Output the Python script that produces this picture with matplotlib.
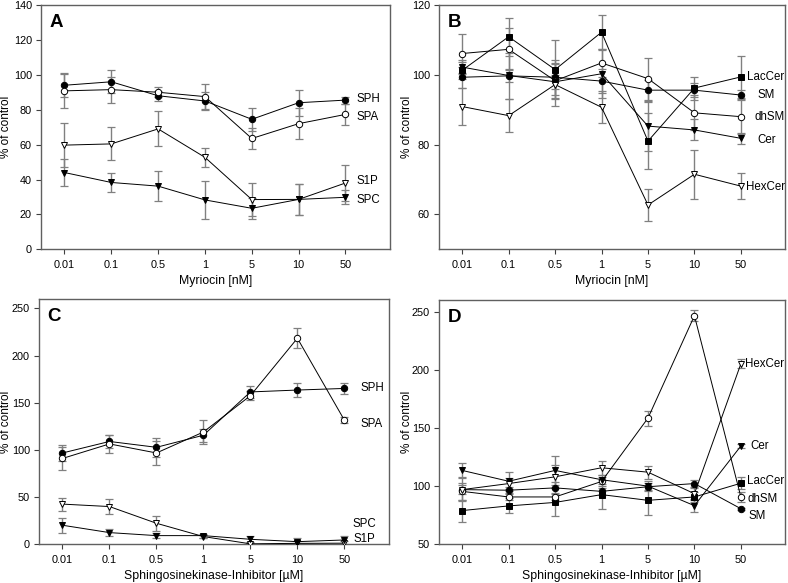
import matplotlib
matplotlib.use("Agg")
import matplotlib.pyplot as plt
import numpy as np

plt.rcParams['font.family'] = ['Liberation Sans', 'DejaVu Sans']

doses = ['0.01', '0.1', '0.5', '1', '5', '10', '50']

# Panel A
A_SPH = [94, 96, 88, 85, 74.5, 84, 85.5]
A_SPH_err = [6.5, 6.5, 3, 5, 6.5, 7.5, 2]
A_SPA = [90.8, 91.5, 90, 87.5, 63.5, 72, 77.3]
A_SPA_err = [10, 7.5, 3, 7, 6, 9, 6]
A_S1P = [59.7, 60.4, 69, 52.7, 28.5, 28.6, 38]
A_S1P_err = [12.5, 9.5, 10, 5.5, 9.5, 9, 10.5]
A_SPC = [44, 38.3, 36.2, 28.3, 23.5, 28.6, 29.8]
A_SPC_err = [7.5, 5.7, 8.5, 11, 6, 9, 4]

# Panel B
B_LacCer = [101.3, 110.9, 101.5, 112.2, 81, 96.2, 99.4]
B_LacCer_err = [2.5, 5.5, 8.5, 5, 8, 3.3, 6]
B_SM = [99.3, 99.7, 99.3, 98.2, 95.6, 95.6, 94.2]
B_SM_err = [3, 6.5, 5, 3.5, 3, 2, 1.5]
B_dhSM = [106.1, 107.3, 98.3, 103.4, 98.9, 89.1, 88]
B_dhSM_err = [5.5, 6, 5, 4, 6, 5, 5]
B_Cer = [102.2, 99.8, 98, 100.3, 85.3, 84.2, 81.8]
B_Cer_err = [2, 2, 2, 7, 7, 3, 1.5]
B_HexCer = [90.9, 88.3, 97.2, 90.7, 62.7, 71.5, 68.1]
B_HexCer_err = [5.3, 4.7, 6, 4.6, 4.6, 7, 3.8]

# Panel C
C_SPH = [96.8, 109, 102.8, 115.6, 161.5, 163.5, 165.2]
C_SPH_err = [8, 6.6, 10, 7, 6, 7.6, 6]
C_SPA = [91, 106.4, 96.8, 119, 157.5, 218.4, 131.6]
C_SPA_err = [12, 9.6, 13, 12.6, 5, 10.6, 3]
C_S1P = [42.6, 40, 22.3, 8.2, 0.5, 1, 1.2]
C_S1P_err = [7, 8, 8, 2, 2, 2, 2]
C_SPC = [20.2, 12.4, 9.2, 9.2, 5.3, 2.8, 4.6]
C_SPC_err = [8, 4, 3, 2, 4, 4, 4]

# Panel D
D_LacCer = [79, 83, 86, 92.7, 87.8, 90.7, 102.5]
D_LacCer_err = [9.5, 6.5, 12, 12.5, 12.5, 4, 5]
D_SM = [97, 96.5, 98.5, 95.5, 99.5, 102.2, 80.6]
D_SM_err = [4, 3, 5, 3, 3, 3, 1]
D_dhSM = [95.5, 90.7, 90.7, 104, 158.5, 246.5, 90.7]
D_dhSM_err = [7, 3, 3, 4, 6.5, 4.5, 4]
D_Cer = [113.5, 104.2, 113.5, 105.5, 100, 83.2, 134.5]
D_Cer_err = [6, 8, 12.5, 4, 4, 5.5, 2]
D_HexCer = [97, 102.2, 108, 115.8, 112, 93.5, 205.2]
D_HexCer_err = [10, 5, 10, 6, 5.5, 5, 4]

fig = plt.figure(figsize=(7.88, 5.83), dpi=100)

W, H = 788.0, 583.0
def add_ax(l, r, t, b):
    return fig.add_axes([l / W, 1 - b / H, (r - l) / W, (b - t) / H])

axA = add_ax(41, 390, 5, 249.3)
axB = add_ax(439, 785, 5, 249.3)
axC = add_ax(39, 389, 299, 544.3)
axD = add_ax(439, 785, 300, 544.3)

x = np.arange(len(doses))

def series(ax, y, err, marker, filled):
    eb = ax.errorbar(x, y, yerr=err, fmt='none', ecolor='#808080', elinewidth=1.0,
                     capsize=3.2, capthick=0.9, zorder=2)
    for cl in eb[1]:
        cl.set_color('black')
    ax.plot(x, y, color='black', lw=0.7, zorder=3,
            marker=marker, markersize=4.6,
            markerfacecolor='black' if filled else 'white',
            markeredgecolor='black', markeredgewidth=0.7)

def style(ax, ylim, yticks, xlabel, letter, ylab_x):
    ax.set_xlim(-0.5, 6.95)
    ax.set_ylim(*ylim)
    ax.set_yticks(yticks)
    ax.set_xticks(x)
    ax.set_xticklabels(doses)
    ax.tick_params(axis='both', labelsize=7.8, direction='out', length=3.5,
                   width=0.8, color='#404040', pad=4)
    ax.tick_params(axis='y', pad=3)
    for s in ax.spines.values():
        s.set_color('#606060')
        s.set_linewidth(1.0)
    ax.set_xlabel(xlabel, fontsize=8.8, labelpad=4)
    ax.set_ylabel('% of control', fontsize=8.5)
    ax.yaxis.set_label_coords(ylab_x, 0.5)
    ax.text(0.025, 0.965, letter, transform=ax.transAxes, fontsize=13.5,
            fontweight='bold', va='top', ha='left')

# A
series(axA, A_SPH, A_SPH_err, 'o', True)
series(axA, A_SPA, A_SPA_err, 'o', False)
series(axA, A_S1P, A_S1P_err, 'v', False)
series(axA, A_SPC, A_SPC_err, 'v', True)
style(axA, (0, 140), range(0, 141, 20), 'Myriocin [nM]', 'A', -0.083)
for t, xx, yy in [('SPH', 6.24, 86), ('SPA', 6.24, 76), ('S1P', 6.24, 39), ('SPC', 6.24, 28)]:
    axA.text(xx, yy, t, fontsize=8.3, va='center', ha='left')

# B
series(axB, B_LacCer, B_LacCer_err, 's', True)
series(axB, B_SM, B_SM_err, 'o', True)
series(axB, B_dhSM, B_dhSM_err, 'o', False)
series(axB, B_Cer, B_Cer_err, 'v', True)
series(axB, B_HexCer, B_HexCer_err, 'v', False)
style(axB, (50, 120), range(60, 121, 20), 'Myriocin [nM]', 'B', -0.076)
for t, xx, yy in [('LacCer', 6.13, 99.5), ('SM', 6.36, 94.2), ('dhSM', 6.3, 87.8),
                  ('Cer', 6.36, 81.4), ('HexCer', 6.1, 67.8)]:
    axB.text(xx, yy, t, fontsize=8.3, va='center', ha='left')

# C
series(axC, C_SPH, C_SPH_err, 'o', True)
series(axC, C_SPA, C_SPA_err, 'o', False)
series(axC, C_S1P, C_S1P_err, 'v', False)
series(axC, C_SPC, C_SPC_err, 'v', True)
style(axC, (0, 260), range(0, 251, 50), 'Sphingosinekinase-Inhibitor [\u00b5M]', 'C', -0.077)
for t, xx, yy in [('SPH', 6.34, 166), ('SPA', 6.34, 128), ('SPC', 6.17, 22), ('S1P', 6.2, 6)]:
    axC.text(xx, yy, t, fontsize=8.3, va='center', ha='left')

# D
series(axD, D_LacCer, D_LacCer_err, 's', True)
series(axD, D_SM, D_SM_err, 'o', True)
series(axD, D_dhSM, D_dhSM_err, 'o', False)
series(axD, D_Cer, D_Cer_err, 'v', True)
series(axD, D_HexCer, D_HexCer_err, 'v', False)
style(axD, (50, 260), range(50, 251, 50), 'Sphingosinekinase-Inhibitor [\u00b5M]', 'D', -0.076)
for t, xx, yy in [('HexCer', 6.09, 205), ('Cer', 6.2, 134.5), ('LacCer', 6.14, 104.5),
                  ('dhSM', 6.14, 89), ('SM', 6.16, 74.5)]:
    axD.text(xx, yy, t, fontsize=8.3, va='center', ha='left')

fig.savefig('out.png', dpi=100)
